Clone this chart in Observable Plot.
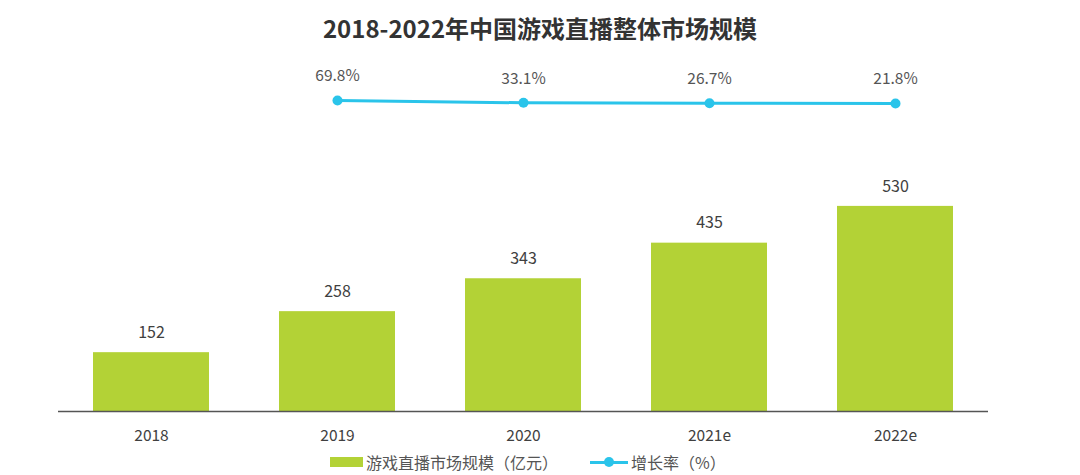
<!DOCTYPE html>
<html><head><meta charset="utf-8">
<script src="https://cdn.jsdelivr.net/npm/d3@7"></script>
<script src="https://cdn.jsdelivr.net/npm/@observablehq/plot@0.6"></script>
<style>
body{margin:0;background:#fff;font-family:"Noto Sans CJK SC","Noto Sans",sans-serif;}
#wrap{position:relative;width:1080px;height:475px;overflow:hidden;}
#wrap svg{position:absolute;left:0;top:0;}
#title{position:absolute;left:0;top:10px;width:1080px;text-align:center;font-size:24px;font-weight:bold;color:#333;z-index:2;}
#legend{position:absolute;left:330px;top:450px;display:flex;align-items:center;font-size:16px;color:#555;z-index:2;white-space:nowrap;}
.sw{display:inline-block;width:33px;height:10px;background:#b3d236;margin-right:3px;}
.ln{display:inline-block;position:relative;width:38px;height:10px;margin-right:3px;margin-left:32px;}
.ln:before{content:"";position:absolute;left:0;right:0;top:4px;height:3px;background:#2ac4ea;}
.ln:after{content:"";position:absolute;left:14px;top:0;width:10px;height:10px;border-radius:50%;background:#2ac4ea;}
</style></head>
<body>
<div id="wrap">
  <div id="title">2018-2022年中国游戏直播整体市场规模</div>
  <div id="legend"><span class="sw"></span><span>游戏直播市场规模（亿元）</span><span class="ln"></span><span>增长率（%）</span></div>
</div>
<script>
const years = ["2018","2019","2020","2021e","2022e"];
const marketSize = [152, 258, 343, 435, 530];
const growthYears = ["2019","2020","2021e","2022e"];
const growthRate = [69.8, 33.1, 26.7, 21.8];

const bars = years.map((y,i)=>({year:y, value:marketSize[i]}));
const growth = growthYears.map((y,i)=>({year:y, rate:growthRate[i]}));

const font = '"Noto Sans CJK SC","Noto Sans",sans-serif';
const common = {
  width:1080, height:475,
  marginLeft:58, marginRight:92, marginTop:24, marginBottom:64,
  style:{fontFamily:font, background:"transparent", overflow:"visible"}
};
const xScale = {domain:years, paddingInner:0.376, paddingOuter:0.188, align:0.5};

const barPlot = Plot.plot({
  ...common,
  x:{...xScale, label:null, axis:null},
  y:{domain:[0,1000], axis:null},
  marks:[
    Plot.barY(bars,{x:"year", y:"value", fill:"#b3d236"}),
    Plot.ruleY([0],{stroke:"#555", strokeWidth:1.5}),
    Plot.text(bars,{x:"year", y:"value", text:d=>String(d.value), dy:-20, fontSize:16, fill:"#404040"}),
    Plot.axisX({tickSize:0, tickPadding:18, fontSize:15.5, color:"#404040", label:null})
  ]
});

const linePlot = Plot.plot({
  ...common,
  x:{...xScale, axis:null},
  y:{domain:[0,100], range:[104.4, 98.1], axis:null},
  marks:[
    Plot.line(growth,{x:"year", y:"rate", stroke:"#2ac4ea", strokeWidth:3}),
    Plot.dot(growth,{x:"year", y:"rate", r:5, fill:"#2ac4ea"}),
    Plot.text(growth,{x:"year", y:"rate", text:d=>d.rate.toFixed(1)+"%", dy:-24, fontSize:15.5, fill:"#555"})
  ]
});

const wrap = document.getElementById("wrap");
wrap.appendChild(barPlot);
wrap.appendChild(linePlot);
</script>
</body></html>
